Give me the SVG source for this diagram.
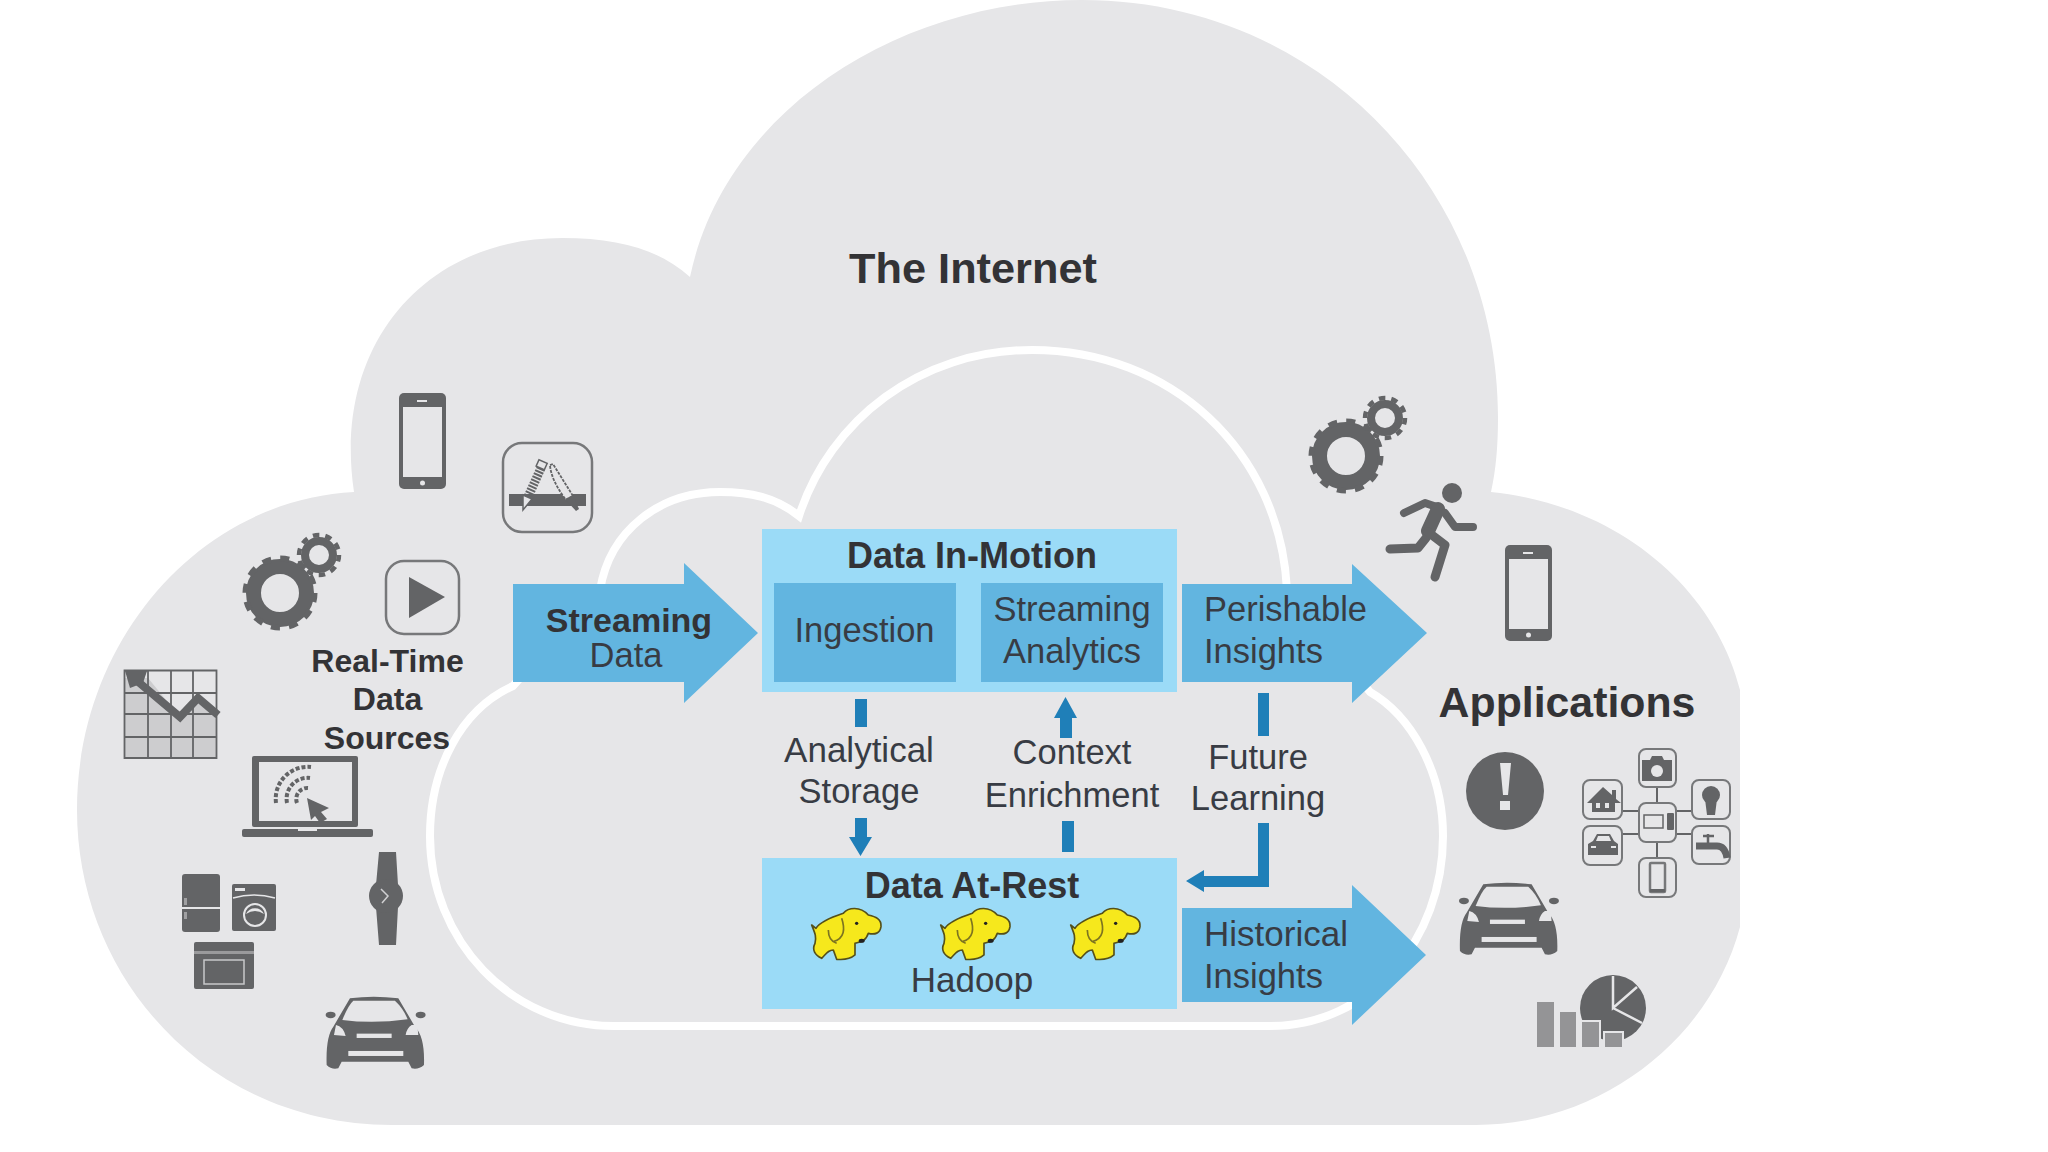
<svg xmlns="http://www.w3.org/2000/svg" xmlns:xlink="http://www.w3.org/1999/xlink" width="2048" height="1152" viewBox="0 0 2048 1152">
<style>
text{font-family:"Liberation Sans",Arial,sans-serif;fill:#383c44;font-size:34.5px;text-anchor:middle}
.b{font-weight:bold;fill:#333336}
.l{text-anchor:start}
.ico{fill:#636466}
.lt{fill:#e6e6e8}
.sky{fill:#9bdbf7}
.mid{fill:#62b5e0}
.dk{fill:#1f7fb8}
.frame{fill:none;stroke:#77787a;stroke-width:2.5}
.mini{fill:none;stroke:#77787a;stroke-width:2}
</style>
<defs>
<g id="gears">
<circle r="26.5" fill="none" stroke="#636466" stroke-width="15"/>
<circle r="34.5" fill="none" stroke="#636466" stroke-width="6" stroke-dasharray="9 9.06"/>
<circle cx="39" cy="-38" r="14" fill="none" stroke="#636466" stroke-width="8"/>
<circle cx="39" cy="-38" r="20" fill="none" stroke="#636466" stroke-width="4.5" stroke-dasharray="6.5 6"/>
</g>
<g id="phone">
<rect x="399" y="393" width="47" height="96" rx="5" class="ico"/>
<rect x="403" y="407" width="39" height="70" class="lt"/>
<rect x="417" y="400" width="10" height="2" class="lt"/>
<circle cx="422.500" cy="483" r="2.500" class="lt"/>
</g>
<g id="car" transform="scale(.3333)">
<path class="ico" d="M550,800 L600,715 Q670,705 745,715 L795,800 Q825,830 822,915 Q805,930 785,925 L775,905 H575 L565,925 Q545,930 530,915 Q527,830 550,800 Z"/>
<path class="lt" d="M577,780 Q595,735 610,722 H735 Q760,745 773,778 Q670,792 577,780 Z"/>
<ellipse cx="542" cy="765" rx="15" ry="10" class="ico"/>
<ellipse cx="812" cy="765" rx="15" ry="10" class="ico"/>
<path class="lt" d="M552,825 L558,795 Q580,800 587,828 Z M785,795 L802,795 L805,825 H767 Q770,805 785,795 Z"/>
<rect x="620" y="821" width="105" height="13" class="lt"/>
<rect x="595" y="873" width="165" height="15" class="lt"/>
</g>
<g id="elephant" transform="scale(.3333)">
<path fill="#f6e81c" stroke="#55501a" stroke-width="5" stroke-linejoin="round" d="M35,75 L48,85 C60,65 100,50 130,40 C145,22 180,18 205,45 C225,50 245,55 243,80 C240,100 225,105 205,100 C195,130 175,125 165,130 L165,165 C150,178 130,180 110,178 L100,150 C85,150 80,160 65,175 C45,165 35,150 45,130 C50,110 45,100 35,75 Z"/>
<path fill="none" stroke="#7d7420" stroke-width="5" d="M125,55 C135,85 135,115 100,125 M85,90 C85,110 95,125 110,130"/>
<circle cx="170" cy="70" r="5" fill="#222"/>
<ellipse cx="185" cy="122" rx="9" ry="6" fill="#222"/>
</g>
</defs>
<rect width="2048" height="1152" fill="#fff"/>
<g id="cloud-outer">
<path fill="#e6e6e8" d="M392,1125 C210,1125 77,980 77,810 C77,640 200,500 354,492 C332,345 425,238 562,238 C620,238 660,250 690,277 C725,110 900,0 1082,0 C1320,0 1498,190 1498,418 C1498,445 1496,470 1491,492 C1620,505 1715,590 1740,690 V927 C1710,1040 1600,1125 1476,1125 Z"/>
</g>
<g id="cloud-inner">
<path fill="none" stroke="#fff" stroke-width="8" d="M1287,590 C1280,450 1170,350 1032,350 C920,350 830,420 799,516 C775,497 750,492 720,492 C660,492 610,530 600,590 L513,686 C460,710 430,770 430,836 C430,940 510,1026 614,1026 L1270,1026 C1370,1026 1443,940 1443,836 C1443,770 1410,715 1370,692 Z"/>
</g>
<text id="internet-label" class="b" x="973" y="283" style="font-size:43.300px">The Internet</text>
<g id="phone-left"><use href="#phone"/></g>
<g id="tool-app">
<rect x="503" y="443" width="89" height="89" rx="19" class="frame"/>
<rect x="509" y="494" width="77" height="12" class="ico"/>
<path fill="none" stroke="#636466" stroke-width="9" stroke-dasharray="2 1.300" d="M541,468 L528,497"/>
<rect x="537" y="461" width="9" height="7" transform="rotate(24 541 465)" fill="#e6e6e8" stroke="#636466" stroke-width="1.500"/>
<path fill="#e6e6e8" stroke="#636466" stroke-width="1.500" d="M523,495 L532,499 L523,510 Z"/>
<path fill="#e6e6e8" stroke="#636466" stroke-width="1.800" stroke-dasharray="3 1.200" d="M550,465 L553,464 L573,496 L566,500 Q551,480 550,465 Z"/>
<path class="ico" d="M565,499 L573,495 L579,509 L576,511 Z"/>
</g>
<g id="gears-left"><use href="#gears" x="280" y="593"/></g>
<g id="play-app">
<rect x="386" y="561" width="73" height="73" rx="18" class="frame"/>
<path class="ico" d="M409,577 L445,597 L409,618 Z"/>
</g>
<g id="sources-label">
<text class="b" x="387.500" y="672" style="font-size:32px">Real-Time</text>
<text class="b" x="387.500" y="709.500" style="font-size:32px">Data</text>
<text class="b" x="387" y="748.500" style="font-size:32px">Sources</text>
</g>
<g id="chart">
<path fill="#cdcdcf" d="M124,678 H148 L180,717 L198,698 L217,710 V758 H124 Z"/>
<path fill="none" stroke="#636466" stroke-width="1.800" d="M124.500,670.500 H216.500 V758 H124.500 Z M148,670 V758 M171,670 V758 M193,670 V758 M124,693 H217 M124,714 H217 M124,737 H217"/>
<path fill="none" stroke="#636466" stroke-width="8" d="M136,680 L180,717 L198,698 L218,715"/>
<path class="ico" d="M125,671 H147 L143,683 L130,688 Z"/>
</g>
<g id="laptop">
<rect x="252" y="756" width="106" height="71" rx="2" class="ico"/>
<rect x="259" y="762" width="93" height="59" class="lt"/>
<rect x="242" y="829" width="131" height="8" rx="2" class="ico"/>
<rect x="298" y="829" width="19" height="2" class="lt"/>
<path fill="none" stroke="#636466" stroke-width="4" stroke-dasharray="4 2" d="M276,803 A32,32 0 0 1 311,767 M287,803 A21,21 0 0 1 310,778 M297,803 A11,11 0 0 1 308,788"/>
<path class="ico" d="M307,798 L329,808 L321,812 L327,819 L320,823 L315,816 L311,820 Z"/>
</g>
<g id="appliances">
<rect x="182" y="874" width="38" height="58" rx="3" class="ico"/>
<rect x="182" y="907" width="38" height="2" class="lt"/>
<rect x="184" y="898" width="3" height="7" fill="#a0a0a2"/>
<rect x="184" y="912" width="3" height="7" fill="#a0a0a2"/>
<rect x="232" y="884" width="44" height="47" rx="2" class="ico"/>
<path fill="none" stroke="#e6e6e8" stroke-width="1.500" d="M233,898 Q254,892 275,898"/>
<rect x="235" y="888" width="10" height="3" class="lt"/>
<circle cx="255" cy="915" r="11" class="ico" stroke="#e6e6e8" stroke-width="2"/>
<path class="lt" d="M246,914 Q255,908 264,914 A10,10 0 0 0 246,914 Z"/>
<rect x="194" y="942" width="60" height="47" rx="2" class="ico"/>
<rect x="194" y="951" width="60" height="3" fill="#9a9a9c"/>
<rect x="204" y="960" width="40" height="24" fill="none" stroke="#c8c8ca" stroke-width="1.500"/>
</g>
<g id="watch">
<path class="ico" d="M379,852 H396 L398,885 H376 Z M376,907 H398 L396,945 H379 Z"/>
<circle cx="386" cy="896" r="17" class="ico"/>
<path fill="none" stroke="#d0d0d2" stroke-width="1.500" d="M381,889 L388,896 L382,903"/>
</g>
<g id="car-left"><use href="#car" transform="translate(150,760)"/></g>
<g id="connectors">
<path class="mid" d="M513,584 H684 V563 L758,633 L684,703 V682 H513 Z"/>
<path class="mid" d="M1182,584 H1352 V564 L1427,633 L1352,703 V682 H1182 Z"/>
<path class="mid" d="M1182,908 H1352 V885 L1426,955 L1352,1025 V1002 H1182 Z"/>
<path class="dk" d="M955,628 H971 V625 L983,632 L971,639 V636 H955 Z"/>
<rect x="855" y="699" width="12" height="28" class="dk"/>
<path class="dk" d="M855,818 H867 V837 H872 L860.500,856 L849,837 H855 Z"/>
<path class="dk" d="M1060,738 V718 H1054 L1065.500,697 L1077,718 H1072 V738 Z"/>
<rect x="1062" y="821" width="12" height="31" class="dk"/>
<rect x="1258" y="693" width="11" height="43" class="dk"/>
<path class="dk" d="M1258,823 H1269 V887 H1204 V892 L1186,881 L1204,870 V876 H1258 Z"/>
</g>
<g id="in-motion">
<rect x="762" y="529" width="415" height="163" class="sky"/>
<text class="b" x="972" y="568" style="font-size:36px">Data In-Motion</text>
</g>
<g id="ingestion">
<rect x="774" y="583" width="182" height="99" class="mid"/>
<text x="864.500" y="642">Ingestion</text>
</g>
<g id="analytics">
<rect x="981" y="583" width="182" height="99" class="mid"/>
<text x="1072" y="621">Streaming</text>
<text x="1072" y="663">Analytics</text>
</g>
<g id="at-rest">
<rect x="762" y="858" width="415" height="151" class="sky"/>
<text class="b" x="972" y="898" style="font-size:36px">Data At-Rest</text>
<use href="#elephant" transform="translate(800,900)"/>
<use href="#elephant" transform="translate(929,900)"/>
<use href="#elephant" transform="translate(1059,900)"/>
<text x="972" y="992" style="font-size:35px">Hadoop</text>
</g>
<g id="connector-labels">
<text class="b" x="629" y="632" style="font-size:34px">Streaming</text>
<text x="626" y="667">Data</text>
<text class="l" x="1204" y="621">Perishable</text>
<text class="l" x="1204" y="663">Insights</text>
<text class="l" x="1204" y="946" style="font-size:35px">Historical</text>
<text class="l" x="1204" y="988">Insights</text>
<text x="859" y="762" style="font-size:35px">Analytical</text>
<text x="859" y="803">Storage</text>
<text x="1072" y="764">Context</text>
<text x="1072" y="807">Enrichment</text>
<text x="1258" y="769">Future</text>
<text x="1258" y="810">Learning</text>
</g>
<g id="gears-right"><use href="#gears" x="1346" y="456"/></g>
<g id="runner" fill="none" stroke="#636466" stroke-linecap="round" stroke-linejoin="round">
<circle cx="1452" cy="493" r="10" fill="#636466" stroke="none"/>
<path stroke-width="8" d="M1404,513 L1425,503 L1440,508"/>
<path stroke-width="14" d="M1438,509 L1428,531"/>
<path stroke-width="8" d="M1445,513 L1455,527 L1473,527"/>
<path stroke-width="9" d="M1426,538 L1418,548 L1390,549"/>
<path stroke-width="9" d="M1428,532 L1445,545 L1435,577"/>
</g>
<g id="phone-right"><use href="#phone" x="1106" y="152"/></g>
<text id="applications-label" class="b" x="1567" y="717" style="font-size:42.800px">Applications</text>
<g id="alert">
<circle cx="1505" cy="791" r="39" class="ico"/>
<path class="lt" d="M1500,763 H1511 L1508,795 H1503 Z"/>
<rect x="1500" y="801" width="10" height="9" class="lt"/>
</g>
<g id="iot-network">
<path fill="none" stroke="#636466" stroke-width="2" d="M1657,787 V803 M1657,842 V858 M1622,811 H1639 M1622,834 H1639 M1676,811 H1692 M1676,834 H1692"/>
<rect x="1639" y="749" width="37" height="38" rx="7" class="mini"/>
<rect x="1583" y="780" width="39" height="39" rx="7" class="mini"/>
<rect x="1692" y="780" width="38" height="39" rx="7" class="mini"/>
<rect x="1639" y="803" width="37" height="39" rx="7" class="mini"/>
<rect x="1583" y="826" width="39" height="39" rx="7" class="mini"/>
<rect x="1692" y="826" width="38" height="38" rx="7" class="mini"/>
<rect x="1639" y="858" width="37" height="39" rx="7" class="mini"/>
<path class="ico" d="M1642,760 H1650 L1652,756 H1662 L1664,760 H1672 V781 H1642 Z"/>
<circle cx="1657" cy="771" r="6" class="lt"/>
<path class="ico" d="M1587,803 L1603,787 L1612,795 V790 H1616 V799 L1621,803 L1615,803 V812 H1592 V803 Z"/>
<rect x="1596" y="803" width="4" height="5" class="lt"/>
<rect x="1605" y="803" width="4" height="5" class="lt"/>
<circle cx="1711" cy="795" r="9" class="ico"/>
<path class="ico" d="M1705,799 H1717 L1715,815 H1707 Z"/>
<rect x="1644" y="815" width="19" height="13" fill="none" stroke="#636466" stroke-width="1.500"/>
<rect x="1667" y="813" width="7" height="17" rx="1" class="ico"/>
<path class="ico" d="M1593,841 L1597,834 H1610 L1614,841 L1618,844 V855 H1588 V844 Z"/>
<path class="lt" d="M1596,841 L1598,836 H1609 L1611,841 Z M1591,846 H1596 V848 H1591 Z M1611,846 H1616 V848 H1611 Z"/>
<path fill="none" stroke="#636466" stroke-width="7" d="M1696,846 H1717 Q1725,846 1727,858"/>
<path fill="none" stroke="#636466" stroke-width="2.500" d="M1708,834 V843 M1703,836 H1714"/>
<rect x="1650" y="863" width="15" height="29" rx="1" fill="none" stroke="#77787a" stroke-width="2.500"/>
<rect x="1650" y="889" width="15" height="3" class="ico"/>
</g>
<g id="car-right"><use href="#car" transform="translate(1283.300,646)"/></g>
<g id="charts">
<circle cx="1613" cy="1008" r="33" class="ico"/>
<path fill="none" stroke="#e6e6e8" stroke-width="2.500" d="M1613,976 V1008 L1637,987 M1613,1008 L1642,1023"/>
<path fill="#949496" stroke="#e6e6e8" stroke-width="2" d="M1536,1001 H1555 V1048 H1536 Z M1559,1011 H1577 V1048 H1559 Z M1581,1021 H1600 V1048 H1581 Z M1604,1032 H1623 V1048 H1604 Z"/>
</g>
</svg>
